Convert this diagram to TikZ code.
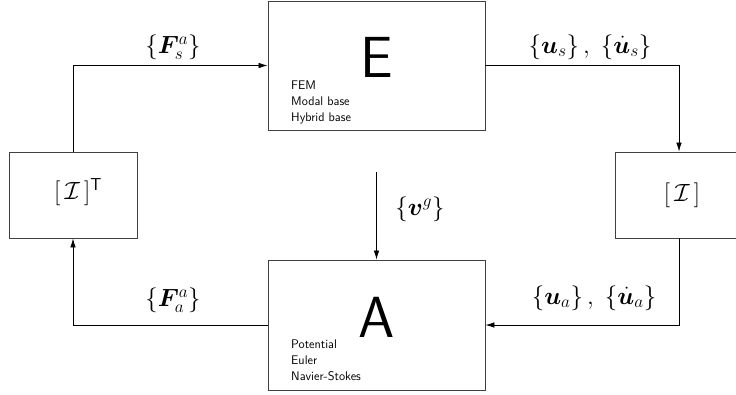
\documentclass[tikz,border=0pt]{standalone}
\usepackage{amsmath}
\usepackage{bm}
\usetikzlibrary{arrows.meta}
\begin{document}
\begin{tikzpicture}[x=1pt,y=-1pt,
  blockbox/.style={draw=black!75,line width=0.9pt,inner sep=0pt},
  flow/.style={draw=black,line width=0.7pt,-{Latex[length=9pt,width=5.5pt]}},
  biglabel/.style={font=\sffamily\fontsize{58}{60}\selectfont},
  listtext/.style={font=\sffamily\fontsize{12.5}{16}\selectfont,align=left,anchor=north west,inner sep=0pt},
  mathlabel/.style={font=\fontsize{25}{28}\selectfont,inner sep=0pt}]
\useasboundingbox (0,0) rectangle (736,394);
% blocks
\node[blockbox,minimum width=217pt,minimum height=129pt] (E) at (376.5,65.5) {};
\node[blockbox,minimum width=217pt,minimum height=130pt] (A) at (376.5,325) {};
\node[blockbox,minimum width=128pt,minimum height=86pt] (L) at (73,195) {};
\node[blockbox,minimum width=128pt,minimum height=86pt] (R) at (679,195) {};
% block contents
\node[biglabel] (Etitle) at (376.5,57) {E};
\node[listtext] (Elist) at (291,81) {FEM\\Modal base\\Hybrid base};
\node[biglabel] (Atitle) at (376.5,317) {A};
\node[listtext] (Alist) at (291,340) {Potential\\Euler\\Navier-Stokes};
\node[mathlabel,font=\fontsize{27}{30}\selectfont] (Ltext) at (78,192) {$[\,\mathcal{I}\,]^{\mathsf{T}}$};
\node[mathlabel] (Rtext) at (682,195) {$[\,\mathcal{I}\,]$};
% connectors
\draw[flow] (L.north) |- (E.west);
\draw[flow] (E.east) -| (R.north);
\draw[flow] (R.south) |- (A.east);
\draw[flow] (A.west) -| (L.south);
\coordinate (vtop) at (376.5,172);
\draw[flow] (vtop) -- (A.north);
% connector labels
\node[mathlabel] (lFs) at (173,47) {$\{\bm{F}^a_s\}$};
\node[mathlabel] (lus) at (590,47) {$\{\bm{u}_s\}\,,\;\{\dot{\bm{u}}_s\}$};
\node[mathlabel] (lua) at (594,298) {$\{\bm{u}_a\}\,,\;\{\dot{\bm{u}}_a\}$};
\node[mathlabel] (lFa) at (173,300) {$\{\bm{F}^a_a\}$};
\node[mathlabel] (lvg) at (420,209) {$\{\bm{v}^g\}$};
\end{tikzpicture}
\end{document}
